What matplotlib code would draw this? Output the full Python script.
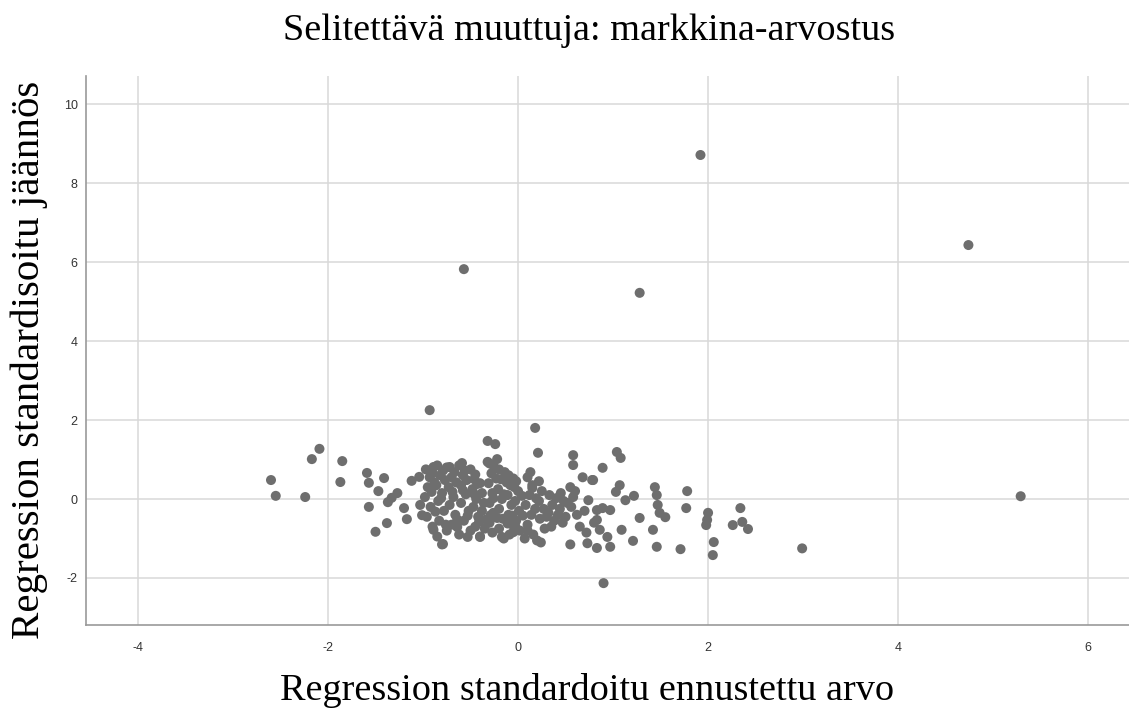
import matplotlib
matplotlib.use("Agg")
import matplotlib.pyplot as plt

plt.rcParams['axes.unicode_minus'] = False

# predicted (x) and residual (y), standardized values
outliers_x = [1.92, 4.74, -0.57, 1.28, -0.93, 0.18, 5.29, 2.99, 0.90]
outliers_y = [8.71, 6.43, 5.82, 5.22, 2.25, 1.80, 0.07, -1.25, -2.13]

left_x = [-2.60, -2.55, -2.24, -2.17, -2.09, -1.85, -1.87, -1.59, -1.57, -1.41,
          -1.47, -1.57, -1.37, -1.27, -1.33, -1.38, -1.50, -1.20, -1.17, -1.12,
          -1.04, -1.03, -1.01, -0.89, -0.72, -0.59, -0.32, -0.24, -0.32, -0.22,
          -0.89, -0.79, -0.64, -0.53, -0.40, -0.17, -0.05, -0.29]
left_y = [0.48, 0.08, 0.05, 1.01, 1.27, 0.96, 0.43, 0.66, 0.41, 0.53,
          0.20, -0.20, -0.08, 0.15, 0.03, -0.61, -0.83, -0.23, -0.51, 0.46,
          0.56, -0.15, -0.41, 0.81, 0.81, 0.91, 1.47, 1.39, 0.94, 1.01,
          -0.78, -1.14, -0.71, -0.96, -0.96, -0.96, -0.84, -0.41]

core_x = [-0.97, -0.93, -0.95, -0.98, -0.92, -0.96, -0.90, -0.85, -0.80,
          -0.85, -0.82, -0.86, -0.80, -0.84, -0.78, -0.83, -0.75,
          -0.75, -0.70, -0.73, -0.68, -0.72, -0.66, -0.70, -0.62,
          -0.62, -0.58, -0.60, -0.55, -0.60, -0.52, -0.57, -0.50,
          -0.50, -0.46, -0.48, -0.44, -0.47, -0.42, -0.45, -0.40,
          -0.40, -0.38, -0.36, -0.38,
          -0.30, -0.28, -0.31, -0.27, -0.30, -0.26, -0.30, -0.27,
          -0.20, -0.18, -0.21, -0.17, -0.20, -0.16, -0.20, -0.15,
          -0.10, -0.08, -0.11, -0.07, -0.10, -0.06, -0.09,
          -0.02, 0.00, -0.03, 0.01, -0.02, 0.02,
          -0.90, -0.88, -0.91, -0.87, -0.79, -0.77, -0.81, -0.76,
          -0.67, -0.65, -0.69, -0.64, -0.56, -0.54, -0.58, -0.53,
          -0.45, -0.43, -0.46, -0.41, -0.25, -0.23, -0.26, -0.22,
          -0.14, -0.12, -0.15, -0.11, -0.05, -0.04, -0.06, -0.03,
          -0.34, -0.35, 0.04, 0.05]
core_y = [0.75, 0.55, 0.30, 0.05, -0.20, -0.45, -0.70, -0.95, -1.15,
          0.85, 0.60, 0.35, 0.15, -0.05, -0.30, -0.55, -0.80,
          0.80, 0.55, 0.30, 0.05, -0.15, -0.40, -0.65, -0.90,
          0.85, 0.60, 0.35, 0.12, -0.10, -0.30, -0.55, -0.80,
          0.75, 0.50, 0.25, 0.00, -0.20, -0.45, -0.70, -0.95,
          0.40, 0.15, -0.10, -0.30,
          0.90, 0.65, 0.40, 0.15, -0.10, -0.35, -0.60, -0.85,
          0.75, 0.50, 0.25, 0.00, -0.25, -0.50, -0.75, -1.00,
          0.60, 0.35, 0.10, -0.15, -0.40, -0.65, -0.90,
          0.45, 0.20, -0.05, -0.30, -0.55, -0.80,
          0.65, 0.42, 0.18, -0.32, 0.72, 0.48, 0.02, -0.65,
          0.68, 0.42, 0.18, -0.52, 0.72, 0.48, 0.22, -0.42,
          0.62, 0.38, 0.12, -0.58, 0.80, 0.52, 0.02, -0.48,
          0.68, 0.42, 0.12, -0.62, 0.52, 0.30, -0.42, -0.68,
          -0.52, -0.75, 0.08, -0.42]

mid_x = [0.21, 0.58, 0.58, 0.13,
         0.10, 0.15, 0.12, 0.08, 0.14, 0.10, 0.16, 0.20,
         0.22, 0.25, 0.22, 0.27, 0.23, 0.28,
         0.33, 0.36, 0.32, 0.38, 0.35,
         0.45, 0.48, 0.44, 0.50, 0.47,
         0.55, 0.58, 0.56, 0.62, 0.65,
         0.70, 0.72, 0.68, 0.78, 0.73,
         0.10, 0.07, 0.15, 0.24, 0.55, 0.60,
         0.18, 0.30, 0.40, 0.19, 0.42, 0.52]
mid_y = [1.17, 1.11, 0.86, 0.68,
         0.55, 0.35, 0.10, -0.15, -0.40, -0.65, -0.90, -1.05,
         0.45, 0.20, -0.05, -0.25, -0.50, -0.75,
         0.10, -0.15, -0.35, -0.55, -0.70,
         0.15, -0.05, -0.25, -0.45, -0.60,
         0.30, 0.05, -0.20, -0.40, -0.70,
         -0.30, -0.85, 0.55, 0.48, -1.12,
         -0.80, -1.00, 0.28, -1.10, -1.15, 0.20,
         -0.25, -0.45, 0.02, 0.02, -0.40, -0.10]

right_x = [1.04, 1.08, 0.89, 0.79, 1.07, 1.03, 1.13, 1.22, 1.44, 1.46,
           1.47, 1.49, 1.55, 1.28, 1.09, 1.42, 1.21, 1.46, 0.83, 0.97,
           0.83, 0.89, 0.97, 0.83, 0.86, 0.94, 0.74, 0.80,
           1.78, 1.77, 2.00, 1.99, 1.98, 2.34, 2.26, 2.36, 2.42, 2.06,
           2.05, 1.71]
right_y = [1.19, 1.04, 0.79, 0.48, 0.35, 0.18, -0.03, 0.08, 0.30, 0.10,
           -0.15, -0.35, -0.46, -0.48, -0.78, -0.78, -1.06, -1.21, -1.24, -1.21,
           -0.28, -0.23, -0.28, -0.53, -0.78, -0.96, -0.03, -0.60,
           0.20, -0.23, -0.35, -0.53, -0.66, -0.23, -0.66, -0.58, -0.76, -1.09,
           -1.42, -1.27]

xs = outliers_x + left_x + core_x + mid_x + right_x
ys = outliers_y + left_y + core_y + mid_y + right_y

fig = plt.figure(figsize=(11.29, 7.16), dpi=100)
ax = fig.add_axes([86 / 1129, 1 - 625 / 716, 1 - 86 / 1129, (625 - 76) / 716])

ax.scatter(xs, ys, s=52, color="#6e6e6e", edgecolors="none", zorder=3)

ax.set_xlim(-4.547, 6.43)
ax.set_ylim(-3.19, 10.71)
ax.set_xticks([-4, -2, 0, 2, 4, 6])
ax.set_yticks([-2, 0, 2, 4, 6, 8, 10])
ax.grid(True, color="#d9d9d9", linewidth=1.1, zorder=0)
ax.set_axisbelow(True)
for s in ["top", "right"]:
    ax.spines[s].set_visible(False)
for s in ["left", "bottom"]:
    ax.spines[s].set_color("#999999")
    ax.spines[s].set_linewidth(1.2)
ax.tick_params(length=0, labelsize=9, labelcolor="#333333")
ax.tick_params(axis="x", pad=12)
ax.tick_params(axis="y", pad=6)
for lab in ax.get_xticklabels() + ax.get_yticklabels():
    lab.set_family("Liberation Sans")

serif = "Liberation Serif"
fig.text(589 / 1129, 1 - 31 / 716, "Selitettävä muuttuja: markkina-arvostus",
         family=serif, fontsize=27.5, ha="center", va="center")
fig.text(587 / 1129, 1 - 690 / 716, "Regression standardoitu ennustettu arvo",
         family=serif, fontsize=27.5, ha="center", va="center")
fig.text(29 / 1129, 1 - 360 / 716, "Regression standardisoitu jäännös",
         family=serif, fontsize=29.5, ha="center", va="center", rotation=90)

fig.savefig("out.png", dpi=100)
